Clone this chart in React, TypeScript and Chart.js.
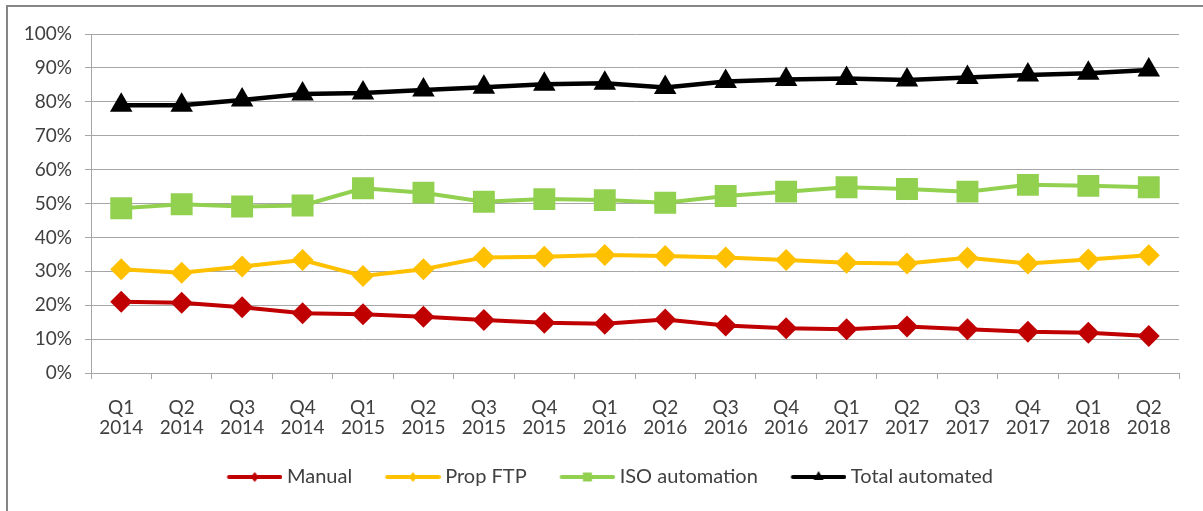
import React, { useEffect, useRef } from "react";
import { Chart, registerables } from "chart.js";

Chart.register(...registerables);

const categories: string[][] = [
  ["Q1", "2014"], ["Q2", "2014"], ["Q3", "2014"], ["Q4", "2014"],
  ["Q1", "2015"], ["Q2", "2015"], ["Q3", "2015"], ["Q4", "2015"],
  ["Q1", "2016"], ["Q2", "2016"], ["Q3", "2016"], ["Q4", "2016"],
  ["Q1", "2017"], ["Q2", "2017"], ["Q3", "2017"], ["Q4", "2017"],
  ["Q1", "2018"], ["Q2", "2018"],
];

const manual = [21.0, 20.7, 19.4, 17.6, 17.3, 16.6, 15.6, 14.8, 14.5, 15.8, 14.0, 13.2, 12.9, 13.7, 12.9, 12.2, 11.9, 10.9];
const propFtp = [30.6, 29.6, 31.4, 33.3, 28.6, 30.6, 34.1, 34.3, 34.8, 34.5, 34.1, 33.3, 32.5, 32.3, 34.0, 32.3, 33.5, 34.7];
const isoAutomation = [48.6, 49.8, 49.1, 49.4, 54.5, 53.2, 50.5, 51.3, 51.0, 50.2, 52.2, 53.5, 54.8, 54.3, 53.5, 55.5, 55.2, 54.8];
const totalAutomated = [79.0, 79.0, 80.5, 82.3, 82.6, 83.5, 84.3, 85.2, 85.5, 84.2, 86.0, 86.6, 86.9, 86.4, 87.2, 87.9, 88.4, 89.4];

const seriesNames = ["Manual", "Prop FTP", "ISO automation", "Total automated"];
const seriesColors = ["#C00000", "#FFC000", "#92D050", "#000000"];
const yTicks = [0, 10, 20, 30, 40, 50, 60, 70, 80, 90, 100];

const FONT = "Lato, 'Open Sans', sans-serif";
const TEXT = "#404040";
const GRID = "#a6a6a6";

// legend icon: image 66 wide, drawn centered in a 55 wide legend box
function legendIcon(color: string, shape: string): HTMLCanvasElement {
  const c = document.createElement("canvas");
  c.width = 66;
  c.height = 16;
  const g = c.getContext("2d")!;
  g.strokeStyle = color;
  g.fillStyle = color;
  g.lineWidth = 4;
  g.lineCap = "round";
  const x0 = 12.5, x1 = 64;
  g.beginPath();
  g.moveTo(x0, 8);
  g.lineTo(x1, 8);
  g.stroke();
  g.beginPath();
  const cx = (x0 + x1) / 2, cy = 8;
  if (shape === "diamond") {
    g.moveTo(cx, cy - 5); g.lineTo(cx + 4, cy); g.lineTo(cx, cy + 5); g.lineTo(cx - 4, cy);
  } else if (shape === "square") {
    g.rect(cx - 4.5, cy - 4.5, 9, 9);
  } else {
    g.moveTo(cx, cy - 6); g.lineTo(cx + 5, cy + 3); g.lineTo(cx - 5, cy + 3);
  }
  g.closePath();
  g.fill();
  return c;
}

const legendShift = {
  id: "legendShift",
  afterLayout(chart: any) {
    if (chart.legend) chart.legend.left += 36;
  },
};

export default function App() {
  const ref = useRef<HTMLCanvasElement | null>(null);

  useEffect(() => {
    if (!ref.current) return;
    const shapes = ["diamond", "diamond", "square", "triangle"];
    const icons = seriesColors.map((c, i) => legendIcon(c, shapes[i]));
    const values = [manual, propFtp, isoAutomation, totalAutomated];
    const pStyles = ["rectRot", "rectRot", "rect", "triangle"];
    const radii = [11, 11, 15.5, 13];
    const chart = new Chart(ref.current, {
      type: "line",
      data: {
        labels: categories,
        datasets: values.map((v, i) => ({
          label: seriesNames[i],
          data: v,
          borderColor: seriesColors[i],
          backgroundColor: seriesColors[i],
          borderWidth: i === 3 ? 4.5 : 4,
          pointStyle: pStyles[i] as any,
          pointRadius: radii[i],
          pointHoverRadius: radii[i],
          pointBorderWidth: 0,
          pointBackgroundColor: seriesColors[i],
          tension: 0,
        })),
      },
      plugins: [legendShift],
      options: {
        animation: false,
        responsive: false,
        devicePixelRatio: 1,
        layout: { padding: { left: 0, top: 34, right: 24, bottom: 14 } },
        plugins: {
          tooltip: { enabled: false },
          legend: {
            position: "bottom",
            labels: {
              usePointStyle: true,
              pointStyleWidth: 55,
              padding: 28,
              color: TEXT,
              font: { family: FONT, size: 20 },
              generateLabels: (ch: any) =>
                ch.data.datasets.map((d: any, i: number) => ({
                  text: d.label,
                  pointStyle: icons[i],
                  fillStyle: seriesColors[i],
                  strokeStyle: seriesColors[i],
                  lineWidth: 0,
                  hidden: false,
                  datasetIndex: i,
                  fontColor: TEXT,
                })),
            },
          },
        },
        scales: {
          x: {
            offset: true,
            grid: {
              offset: true,
              drawOnChartArea: false,
              drawTicks: true,
              tickLength: 6,
              color: GRID,
            },
            border: { display: true, color: GRID, width: 1 },
            ticks: {
              color: TEXT,
              padding: 19,
              maxRotation: 0,
              autoSkip: false,
              font: { family: FONT, size: 19, lineHeight: 1.05 },
            },
            afterFit: (s: any) => { s.height = 66; },
          },
          y: {
            min: 0,
            max: 100,
            afterBuildTicks: (s: any) => { s.ticks = yTicks.map((v) => ({ value: v })); },
            grid: { color: GRID, tickLength: 6, drawTicks: true },
            border: { display: true, color: GRID, width: 1 },
            ticks: {
              color: TEXT,
              padding: 13,
              font: { family: FONT, size: 19 },
              callback: (v: any) => v + "%",
            },
            afterFit: (s: any) => { s.width = 91; },
          },
        },
      },
    });
    return () => chart.destroy();
  }, []);

  return (
    <div style={{ position: "fixed", left: 0, top: 0, width: 1203, height: 511, background: "#fff", overflow: "hidden" }}>
      <div style={{ position: "absolute", left: 6, top: 5, width: 1300, height: 600, borderLeft: "2px solid #868686", borderTop: "2px solid #868686" }} />
      <canvas ref={ref} width={1203} height={511} style={{ position: "absolute", left: 0, top: 0 }} />
    </div>
  );
}
